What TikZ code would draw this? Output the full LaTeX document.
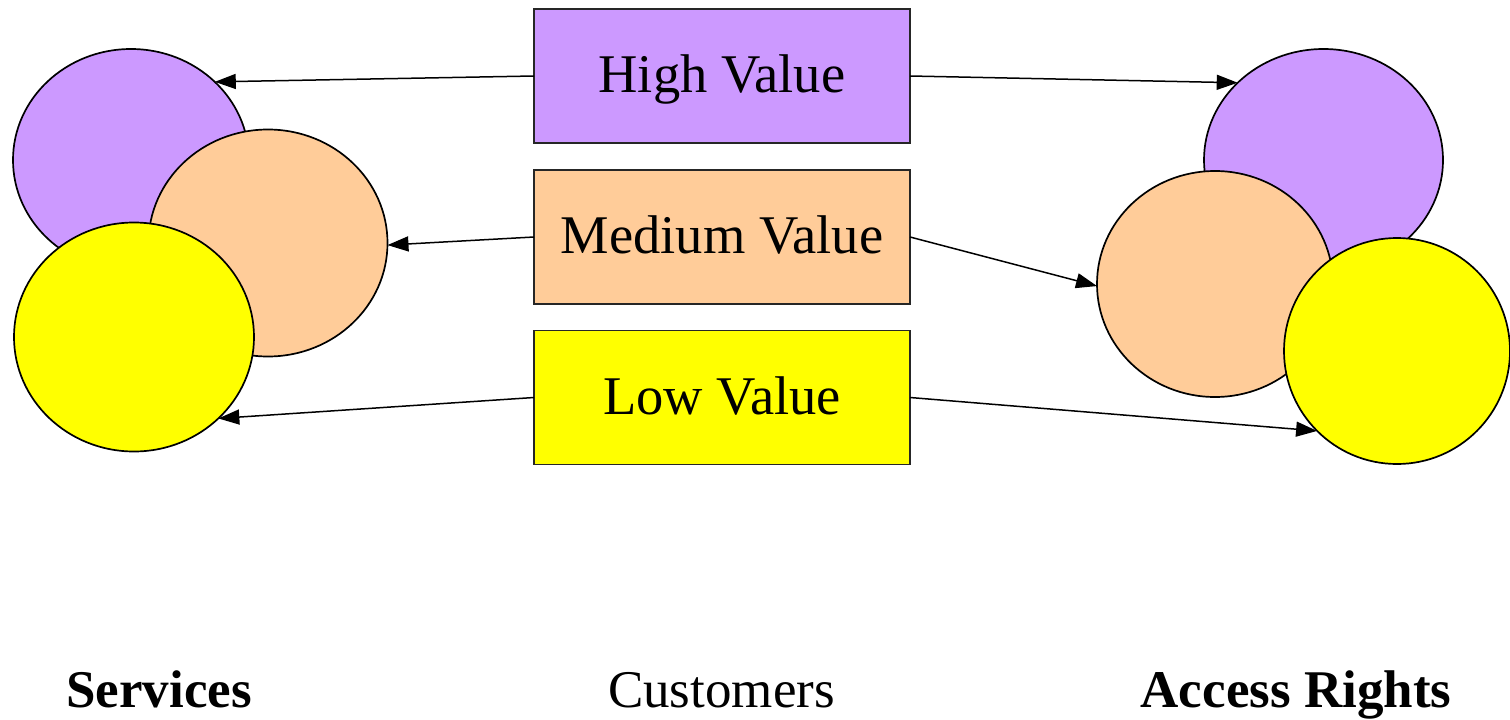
\documentclass[tikz,border=0pt]{standalone}
\usepackage{fontspec}
\setmainfont{Liberation Serif}
\usetikzlibrary{shapes.geometric,arrows.meta}

\definecolor{hiPurple}{HTML}{CC99FF}
\definecolor{midPeach}{HTML}{FFCC99}
\definecolor{lowYellow}{HTML}{FFFF00}

\tikzset{
  blob/.style={ellipse, draw=black, line width=1.7pt, inner sep=0pt, outer sep=0pt},
  valbox/.style={rectangle, draw=black!85, line width=1.7pt, inner sep=0pt, outer sep=0pt,
    minimum width=376pt, minimum height=134pt,
    font=\fontsize{54.5}{62}\selectfont, text height=45pt, text depth=12pt},
  link/.style={line width=1.5pt, -{Triangle[length=21pt,width=15pt]}},
  caption/.style={anchor=base, font=\fontsize{53}{60}\selectfont, inner sep=0pt}
}

\begin{document}
\begin{tikzpicture}[x=1pt,y=-1pt]
  \useasboundingbox (0,0) rectangle (1510,720);

  % services cluster
  \node[blob, fill=hiPurple,  minimum width=236pt, minimum height=222pt] (sHi)  at (131,160) {};
  \node[blob, fill=midPeach,  minimum width=239pt, minimum height=227pt] (sMid) at (268,243) {};
  \node[blob, fill=lowYellow, minimum width=240pt, minimum height=229pt] (sLow) at (134,337) {};

  % access rights cluster
  \node[blob, fill=hiPurple,  minimum width=239pt, minimum height=222pt] (aHi)  at (1323.5,160) {};
  \node[blob, fill=midPeach,  minimum width=236pt, minimum height=226pt] (aMid) at (1215,284) {};
  \node[blob, fill=lowYellow, minimum width=226pt, minimum height=226pt] (aLow) at (1397,351) {};

  % customer value tiers
  \node[valbox, fill=hiPurple]  (cHi)  at (722,76)    {High Value};
  \node[valbox, fill=midPeach]  (cMid) at (722,237)   {Medium Value};
  \node[valbox, fill=lowYellow] (cLow) at (722,397.5) {Low Value};

  % links from tiers to services and access rights
  \draw[link] (cHi.west)  -- (sHi.43);
  \draw[link] (cHi.east)  -- (aHi.138);
  \draw[link] (cMid.west) -- (sMid.-1);
  \draw[link] (cMid.east) -- (aMid.181);
  \draw[link] (cLow.west) -- (sLow.-44);
  \draw[link] (cLow.east) -- (aLow.225);

  % column captions
  \node[caption, font=\fontsize{53}{60}\selectfont\bfseries] (tServices) at (159,707)  {Services};
  \node[caption] (tCustomers) at (721.5,707) {Customers};
  \node[caption, font=\fontsize{53}{60}\selectfont\bfseries] (tAccess) at (1296,707) {Access Rights};
\end{tikzpicture}
\end{document}
